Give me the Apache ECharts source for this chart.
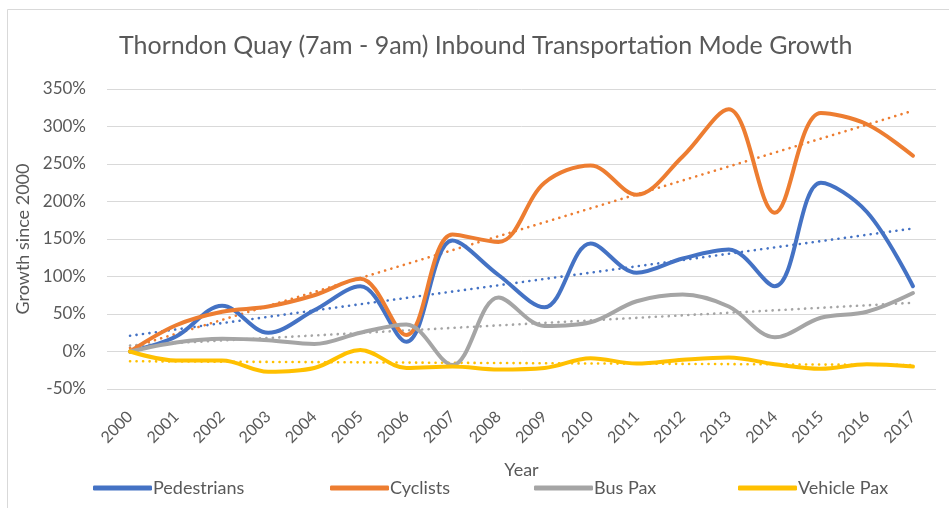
<!DOCTYPE html>
<html>
<head>
<meta charset="utf-8">
<script src="https://cdn.jsdelivr.net/npm/echarts@6/dist/echarts.min.js"></script>
<style>html,body{margin:0;padding:0;background:#fff;}#c{width:949px;height:508px;}</style>
</head>
<body>
<div id="c"></div>
<script>
var years = ['2000','2001','2002','2003','2004','2005','2006','2007','2008','2009','2010','2011','2012','2013','2014','2015','2016','2017'];
var pedestrians = [0, 20, 61, 25, 55, 87, 13, 148, 102, 59, 144, 105, 124, 136, 87, 225, 186, 87];
var cyclists = [0, 35, 53, 60, 75, 97, 22, 156, 146, 225, 248, 209, 260, 323, 185, 318, 303, 261];
var busPax = [0, 12, 17, 15, 10, 25, 36, -18, 72, 34, 39, 67, 76, 60, 19, 45, 53, 78];
var vehiclePax = [0, -12, -12, -27, -22, 2, -22, -20, -24, -22, -9, -16, -11, -8, -17, -23, -17, -20];
// trend line endpoints (2000, 2017)
var pedTrend = [21, 164];
var cycTrend = [5, 321];
var busTrend = [8, 65];
var vehTrend = [-13, -18];
var yTicks = [-50, 0, 50, 100, 150, 200, 250, 300, 350];
var seriesNames = ['Pedestrians', 'Cyclists', 'Bus Pax', 'Vehicle Pax'];

var colors = ['#4472C4', '#ED7D31', '#A5A5A5', '#FFC000'];
var font = 'Lato, "Open Sans", sans-serif';
var legendLefts = [88, 325, 529, 733];

function solid(name, data, color) {
  return {name:name, type:'line', data:data, smooth:0.35, symbol:'none',
    lineStyle:{color:color, width:4, cap:'round', join:'round'}, itemStyle:{color:color}, z:3};
}
function trend(name, ends, color) {
  return {name:name+' trend', type:'line', data:[[0, ends[0]], [years.length-1, ends[1]]], symbol:'none',
    lineStyle:{color:color, width:2.6, type:[0.1, 6.4], cap:'round'}, z:2, silent:true};
}

var legends = seriesNames.map(function(n, i){
  return {data:[n], top:474, left:legendLefts[i], icon:'roundRect', itemWidth:59, itemHeight:5, itemGap:0,
    textStyle:{color:'#595959', fontSize:18, fontFamily:font, padding:[0,0,0,-4]}};
});

var chart = echarts.init(document.getElementById('c'), null, {renderer:'canvas'});
chart.setOption({
  animation:false,
  backgroundColor:'#fff',
  graphic:[{type:'rect', shape:{x:7.5, y:9.5, width:1000, height:600}, style:{fill:'none', stroke:'#D9D9D9', lineWidth:1}, silent:true, z:-1}],
  title:{text:'Thorndon Quay (7am - 9am) Inbound Transportation Mode Growth', left:114, top:28,
    textStyle:{color:'#595959', fontSize:25, fontWeight:'normal', fontFamily:font}},
  grid:{left:107, right:13, top:89, bottom:119},
  legend:legends,
  xAxis:{type:'category', data:years, boundaryGap:true, name:'Year', nameLocation:'middle', nameGap:72,
    nameTextStyle:{color:'#595959', fontSize:18, fontFamily:font},
    axisLine:{show:false}, axisTick:{show:false},
    axisLabel:{rotate:45, color:'#595959', fontSize:16, fontFamily:font, margin:25, interval:0}},
  yAxis:{type:'value', min:yTicks[0], max:yTicks[yTicks.length-1], interval:50,
    name:'Growth since 2000', nameLocation:'middle', nameGap:72,
    nameTextStyle:{color:'#595959', fontSize:18, fontFamily:font},
    axisLine:{show:false}, axisTick:{show:false},
    axisLabel:{color:'#595959', fontSize:17, fontFamily:font, margin:21, formatter:function(v){return v+'%';}},
    splitLine:{lineStyle:{color:'#D9D9D9', width:1}}},
  series:[
    solid(seriesNames[0], pedestrians, colors[0]),
    solid(seriesNames[1], cyclists, colors[1]),
    solid(seriesNames[2], busPax, colors[2]),
    solid(seriesNames[3], vehiclePax, colors[3]),
    trend(seriesNames[0], pedTrend, colors[0]),
    trend(seriesNames[1], cycTrend, colors[1]),
    trend(seriesNames[2], busTrend, colors[2]),
    trend(seriesNames[3], vehTrend, colors[3])
  ]
});
</script>
</body>
</html>
